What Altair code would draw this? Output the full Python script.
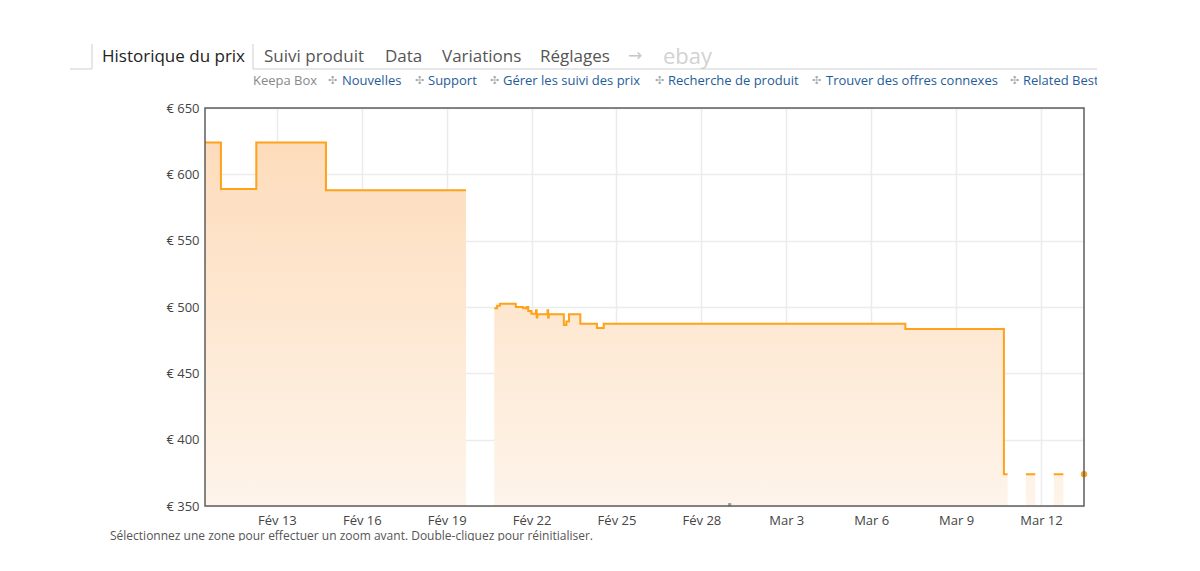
import altair as alt
import pandas as pd

# ---- data ----
dates = [
    "2018-02-10T11:00:00Z", "2018-02-11T00:30:00Z", "2018-02-12T06:30:00Z", "2018-02-14T17:35:00Z",
    "2018-02-19T16:20:00Z", "2018-02-20T00:00:00Z",
    "2018-02-20T16:20:00Z", "2018-02-20T18:45:00Z", "2018-02-20T21:05:00Z", "2018-02-21T10:35:00Z",
    "2018-02-21T16:50:00Z", "2018-02-21T19:40:00Z", "2018-02-21T21:10:00Z", "2018-02-21T23:50:00Z",
    "2018-02-22T03:45:00Z", "2018-02-22T04:20:00Z", "2018-02-22T04:50:00Z",
    "2018-02-22T13:30:00Z", "2018-02-22T14:00:00Z", "2018-02-22T14:35:00Z",
    "2018-02-23T03:20:00Z", "2018-02-23T05:30:00Z", "2018-02-23T07:40:00Z", "2018-02-23T17:20:00Z",
    "2018-02-24T07:25:00Z", "2018-02-24T13:10:00Z", "2018-03-07T05:00:00Z",
    "2018-03-10T16:35:00Z", "2018-03-10T19:40:00Z", "2018-03-11T00:00:00Z",
    "2018-03-11T11:15:00Z", "2018-03-11T19:10:00Z", "2018-03-12T00:00:00Z",
    "2018-03-12T10:50:00Z", "2018-03-12T19:00:00Z", "2018-03-13T00:00:00Z",
]
prices = [
    624, 589, 624, 588,
    588, None,
    499, 501, 502.5, 500,
    499, 500, 497, 495,
    497.5, 492, 494.5,
    497.5, 492, 494.5,
    486.5, 489, 494.5, 487.4,
    484.2, 487.4, 483.5,
    374, 374, None,
    374, 374, None,
    374, 374, None,
]
last_date = ["2018-03-13T12:30:00Z"]
last_price = [374]
marker_date = ["2018-03-01T00:00:00Z"]
marker_price = [351]

tick_dates = ["2018-02-13", "2018-02-16", "2018-02-19", "2018-02-22", "2018-02-25",
              "2018-02-28", "2018-03-03", "2018-03-06", "2018-03-09", "2018-03-12"]
y_ticks = [350, 400, 450, 500, 550, 600, 650]
x_start, x_end = "2018-02-10T11:00:00Z", "2018-03-13T12:30:00Z"

tab_labels = ["Historique du prix", "Suivi produit", "Data", "Variations", "Réglages"]
link_first = "Keepa Box"
link_labels = ["Nouvelles", "Support", "Gérer les suivi des prix", "Recherche de produit",
               "Trouver des offres connexes", "Related Best"]
footer_text = "Sélectionnez une zone pour effectuer un zoom avant. Double-cliquez pour réinitialiser."


def ms(s):
    return int(pd.Timestamp(s).value // 10**6)


tick_ms = [ms(d + "T00:00:00Z") for d in tick_dates]
domain_ms = [ms(x_start), ms(x_end)]

W, H = 879, 398
FONT = "Open Sans"
ORANGE = "#ffa21a"

df = pd.DataFrame({"date": dates, "price": prices})
df_last = pd.DataFrame({"date": last_date, "price": last_price})
df_marker = pd.DataFrame({"date": marker_date, "price": marker_price})

x_enc = alt.X(
    "date:T",
    scale=alt.Scale(type="utc", domain=domain_ms),
    axis=alt.Axis(
        values=tick_ms,
        labelExpr="(utcmonth(datum.value) == 1 ? 'Fév ' : 'Mar ') + utcdate(datum.value)",
        title=None, ticks=False, domain=False, labelPadding=8,
        labelFont=FONT, labelFontSize=13, labelColor="#444",
        grid=True, gridColor="#ececec", gridWidth=1.5,
    ),
)
y_enc = alt.Y(
    "price:Q",
    scale=alt.Scale(domain=[350, 650], nice=False, zero=False),
    axis=alt.Axis(
        values=y_ticks, labelExpr="'€ ' + datum.value",
        title=None, ticks=False, domain=False, labelPadding=6,
        labelFont=FONT, labelFontSize=13, labelColor="#444",
        grid=True, gridColor="#ececec", gridWidth=1.5,
    ),
)

area = alt.Chart(df).mark_area(
    interpolate="step-after",
    invalid="break-paths-show-domains",
    color=alt.Gradient(
        gradient="linear",
        stops=[alt.GradientStop(color="#fddcbb", offset=0),
               alt.GradientStop(color="#fef4ea", offset=1)],
        x1=0, x2=0, y1=0, y2=1,
    ),
).encode(x=x_enc, y=y_enc, y2=alt.datum(350))

line = alt.Chart(df).mark_line(
    interpolate="step-after", invalid="break-paths-show-domains",
    color=ORANGE, strokeWidth=2,
).encode(x="date:T", y="price:Q")

dot = alt.Chart(df_last).mark_circle(color=ORANGE, size=40, opacity=1).encode(x="date:T", y="price:Q")
marker = alt.Chart(df_marker).mark_square(color="#999", size=10, opacity=1).encode(x="date:T", y="price:Q")

frame = alt.Chart(alt.Data(values=[{}])).mark_rect(
    fillOpacity=0, stroke="#5e5e5e", strokeWidth=1.5
).encode(x=alt.value(0), x2=alt.value(W), y=alt.value(0), y2=alt.value(H))


def txt(s, x, y, size=13, color="#333", font=FONT, baseline="middle"):
    return alt.Chart(alt.Data(values=[{}])).mark_text(
        text=s, align="left", baseline=baseline, fontSize=size, color=color, font=font
    ).encode(x=alt.value(x), y=alt.value(y))


def rule(x1, x2, y1, y2, color="#cfcfcf", w=1):
    return alt.Chart(alt.Data(values=[{}])).mark_rule(color=color, strokeWidth=w).encode(
        x=alt.value(x1), x2=alt.value(x2), y=alt.value(y1), y2=alt.value(y2))


def cover(x1, x2, y1, y2):
    return alt.Chart(alt.Data(values=[{}])).mark_rect(color="white", opacity=1).encode(
        x=alt.value(x1), x2=alt.value(x2), y=alt.value(y1), y2=alt.value(y2))


deco = []
# tabs
tab_x = [-103, 59, 180, 237, 335]
for i, (lab, xx) in enumerate(zip(tab_labels, tab_x)):
    deco.append(txt(lab, xx, -51, size=17, color="#222" if i == 0 else "#555"))
deco.append(txt("→", 423, -52, size=17, color="#c8c8c8", font="DejaVu Sans"))
deco.append(txt("ebay", 458, -51, size=22, color="#d2d2d2"))
# tab lines
deco.append(rule(-135, -113, -39, -39))
deco.append(rule(48, 892, -39, -39))
deco.append(rule(-113, -113, -64, -39))
deco.append(rule(48, 48, -64, -39))
# links row
deco.append(txt(link_first, 48, -27, size=13, color="#888"))
sep_x = [123, 210, 285, 450, 607, 805]
link_x = [137, 223, 298, 463, 621, 818]
for sx, lx, lab in zip(sep_x, link_x, link_labels):
    deco.append(txt("✣", sx, -27, size=11, color="#aaa", font="DejaVu Sans"))
    deco.append(txt(lab, lx, -27, size=13, color="#1f5c99"))
deco.append(cover(892, 990, -38, -12))
# footer
deco.append(txt(footer_text, -95, 432, size=12, color="#555", baseline="alphabetic"))
deco.append(cover(-110, 700, 433, 450))

chart = alt.layer(area, line, dot, marker, frame, *deco).properties(
    width=W, height=H,
    autosize=alt.AutoSizeParams(type="none"),
    padding={"left": 197, "top": 100, "right": 108, "bottom": 57},
).configure_view(strokeWidth=0)

chart.save("out.html", embed_options={"renderer": "svg", "actions": False})
